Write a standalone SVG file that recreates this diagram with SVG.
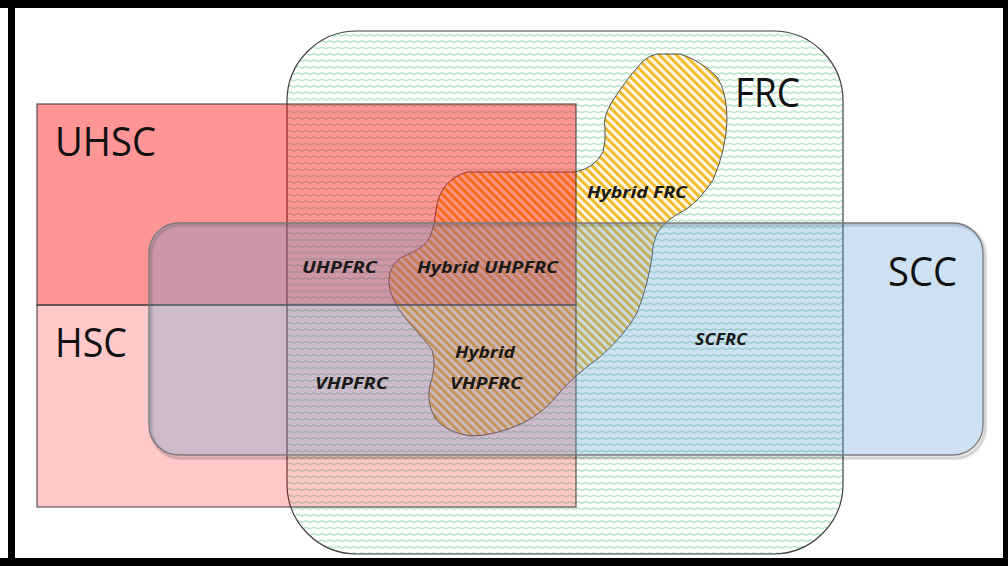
<svg xmlns="http://www.w3.org/2000/svg" width="1008" height="566" viewBox="0 0 1008 566">
<style>
.big{font-family:"Open Sans","Noto Sans","Liberation Sans",sans-serif;font-size:40px;fill:#111}
.lbl{font-family:"Open Sans","Noto Sans","Liberation Sans",sans-serif;font-size:16px;font-weight:bold;font-style:italic;fill:#1a1a1a}
.edge{stroke:#3a3a3a;stroke-width:1.2;stroke-opacity:0.85}
</style>
<defs>
<pattern id="wave" width="8" height="6.4" patternUnits="userSpaceOnUse">
<path d="M0,3.2 Q2,1.6 4,3.2 T8,3.2" fill="none" stroke="#74cf94" stroke-width="0.9"/>
</pattern>
<pattern id="stripe" width="6" height="10" patternUnits="userSpaceOnUse" patternTransform="rotate(-45)">
<rect x="0" y="0" width="2.8" height="10" fill="#f2b824"/>
</pattern>
<filter id="blur" x="-5%" y="-5%" width="110%" height="110%"><feGaussianBlur stdDeviation="1.2"/></filter>
</defs>
<rect width="1008" height="566" fill="#fff"/>
<g id="frame">
<rect x="0" y="0" width="1008" height="8" fill="#000"/>
<rect x="8" y="0" width="7" height="566" fill="#000"/>
<rect x="1003" y="0" width="5" height="566" fill="#000"/>
<rect x="0" y="558" width="1008" height="8" fill="#000"/>
</g>
<g id="FRC">
<rect x="287" y="31" width="556" height="523" rx="70" ry="70" fill="#fff"/>
<rect x="287" y="31" width="556" height="523" rx="70" ry="70" fill="url(#wave)" stroke="#404040" stroke-width="1.2"/>
</g>
<g id="hybrid">
<path d="M657,54 L680,54 Q700,60 717,77 Q727,92 727,120 Q726,150 713,180 Q700,200 685,210 Q665,220 657,233 Q652,245 652,257 Q648,285 637,313 Q625,335 600,357 Q575,375 560,392 Q545,412 523,423 Q495,436 470,436 Q445,432 435,418 Q426,402 430,385 Q437,365 432,350 Q425,340 413,327 Q395,308 390,290 Q385,270 400,258 Q425,248 430,237 Q435,225 436,210 Q440,180 467,172 L575,172 Q595,168 603,152 Q606,140 605,128 Q602,118 613,100 Q627,78 643,61 Q650,55 657,54 Z" fill="#fff6e2"/>
<path d="M657,54 L680,54 Q700,60 717,77 Q727,92 727,120 Q726,150 713,180 Q700,200 685,210 Q665,220 657,233 Q652,245 652,257 Q648,285 637,313 Q625,335 600,357 Q575,375 560,392 Q545,412 523,423 Q495,436 470,436 Q445,432 435,418 Q426,402 430,385 Q437,365 432,350 Q425,340 413,327 Q395,308 390,290 Q385,270 400,258 Q425,248 430,237 Q435,225 436,210 Q440,180 467,172 L575,172 Q595,168 603,152 Q606,140 605,128 Q602,118 613,100 Q627,78 643,61 Q650,55 657,54 Z" fill="url(#stripe)" stroke="#505050" stroke-width="1"/>
</g>
<g id="UHSC">
<rect x="37" y="104" width="539" height="201" fill="#ff0000" fill-opacity="0.41" class="edge"/>
</g>
<g id="HSC">
<rect x="37" y="305" width="539" height="202" fill="#ff0000" fill-opacity="0.21" class="edge"/>
</g>
<g id="SCC">
<rect x="151" y="225" width="834" height="233" rx="30" ry="30" fill="none" stroke="#000" stroke-opacity="0.3" stroke-width="2" filter="url(#blur)"/>
<rect x="149" y="223" width="834" height="232" rx="30" ry="30" fill="#5b9bd5" fill-opacity="0.3" stroke="#7a7a7a" stroke-width="1.3"/>
</g>
<g id="labels">
<text class="big" x="55" y="156" textLength="101" lengthAdjust="spacingAndGlyphs">UHSC</text>
<text class="big" x="55" y="357" textLength="72" lengthAdjust="spacingAndGlyphs">HSC</text>
<text class="big" x="735" y="107" textLength="65" lengthAdjust="spacingAndGlyphs">FRC</text>
<text class="big" x="888" y="286" textLength="69" lengthAdjust="spacingAndGlyphs">SCC</text>
<text class="lbl" x="587" y="198" textLength="100" lengthAdjust="spacingAndGlyphs">Hybrid FRC</text>
<text class="lbl" x="302" y="273" textLength="75" lengthAdjust="spacingAndGlyphs">UHPFRC</text>
<text class="lbl" x="417" y="273" textLength="141" lengthAdjust="spacingAndGlyphs">Hybrid UHPFRC</text>
<text class="lbl" x="455" y="358" textLength="60" lengthAdjust="spacingAndGlyphs">Hybrid</text>
<text class="lbl" x="450" y="389" textLength="72" lengthAdjust="spacingAndGlyphs">VHPFRC</text>
<text class="lbl" x="315" y="389" textLength="73" lengthAdjust="spacingAndGlyphs">VHPFRC</text>
<text class="lbl" x="695" y="345" textLength="52" lengthAdjust="spacingAndGlyphs">SCFRC</text>
</g>
</svg>
